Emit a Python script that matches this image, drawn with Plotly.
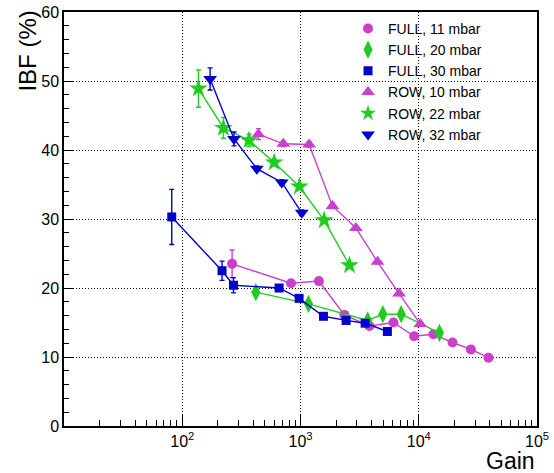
import plotly.graph_objects as go

# ---- data: gain vs. ion back-flow (IBF, %) ----
full11_gain = [264, 832, 1430, 2350, 3830, 6110, 9140, 13300, 19300, 27600, 38900]
full11_ibf = [23.5, 20.7, 21.0, 16.1, 14.5, 15.0, 13.0, 13.3, 12.1, 11.1, 9.9]
full11_err = [2.0, 0.3, 0.3, 0.3, 0.3, 0.3, 0.3, 0.3, 0.3, 0.3, 0.3]

full20_gain = [419, 1167, 3700, 4970, 7100, 14960]
full20_ibf = [19.4, 17.7, 15.3, 16.2, 16.2, 13.5]
full20_err = [0.4, 0.4, 0.3, 0.3, 0.3, 0.3]

full30_gain = [81.5, 217, 271, 659, 973, 1563, 2430, 3520, 5430]
full30_ibf = [30.3, 22.5, 20.4, 20.0, 18.5, 15.9, 15.3, 14.9, 13.7]
full30_err = [4.0, 1.4, 1.1, 0.3, 0.3, 0.3, 0.3, 0.3, 0.3]

row10_gain = [441, 716, 1183, 1862, 2940, 4480, 6820, 10300]
row10_ibf = [42.3, 40.9, 40.8, 31.9, 28.7, 23.8, 19.2, 14.8]
row10_err = [0.8, 0.4, 0.4, 0.4, 0.3, 0.3, 0.3, 0.3]

row22_gain = [137, 223, 367, 599, 979, 1585, 2596]
row22_ibf = [48.9, 43.2, 41.4, 38.2, 34.7, 29.8, 23.3]
row22_err = [2.7, 1.5, 0.9, 0.5, 0.4, 0.4, 0.3]

row32_gain = [172, 274, 427, 695, 1025]
row32_ibf = [50.3, 41.6, 37.3, 35.3, 30.9]
row32_err = [1.6, 1.0, 0.4, 0.4, 0.4]

x_tick_vals = [100, 1000, 10000, 100000]
x_tick_text = ["10<sup>2</sup>", "10<sup>3</sup>", "10<sup>4</sup>", "10<sup>5</sup>"]

MAGENTA = "#cc3fcc"
GREEN = "#1fcc1f"
BLUE = "#0000cc"

# name, gain, ibf, error, colour, symbol, marker size, legend marker size
series = [
    ("FULL, 11 mbar", full11_gain, full11_ibf, full11_err, MAGENTA, "circle", 10, 10),
    ("FULL, 20 mbar", full20_gain, full20_ibf, full20_err, GREEN, "diamond-tall", 13, 13),
    ("FULL, 30 mbar", full30_gain, full30_ibf, full30_err, BLUE, "square", 9, 9),
    ("ROW, 10 mbar", row10_gain, row10_ibf, row10_err, MAGENTA, "triangle-up", 12, 12),
    ("ROW, 22 mbar", row22_gain, row22_ibf, row22_err, GREEN, "star", 14, 12),
    ("ROW, 32 mbar", row32_gain, row32_ibf, row32_err, BLUE, "triangle-down", 12, 12),
]

fig = go.Figure()

for name, gx, gy, ge, color, symbol, size, lsize in series:
    fig.add_trace(go.Scatter(
        x=gx, y=gy, mode="lines+markers", name=name, showlegend=False,
        line=dict(color=color, width=1.4),
        marker=dict(color=color, symbol=symbol, size=size, line=dict(width=0)),
        error_y=dict(type="data", array=ge, visible=True, color=color,
                     thickness=1.4, width=2.5),
    ))

# marker-only legend entries
for name, gx, gy, ge, color, symbol, size, lsize in series:
    fig.add_trace(go.Scatter(
        x=[None], y=[None], mode="markers", name=name, showlegend=True,
        marker=dict(color=color, symbol=symbol, size=lsize, line=dict(width=0)),
    ))

font_family = "Liberation Sans, Arial, sans-serif"

fig.update_layout(
    width=554, height=473,
    margin=dict(l=64, r=17, t=12, b=47, autoexpand=False),
    paper_bgcolor="white", plot_bgcolor="white",
    font=dict(family=font_family, color="black", size=16),
    showlegend=True,
    legend=dict(x=0.6005, y=0.998, xanchor="left", yanchor="top",
                bgcolor="rgba(0,0,0,0)", borderwidth=0,
                font=dict(size=14, family=font_family),
                itemsizing="trace"),
    xaxis=dict(
        type="log", range=[1, 5], automargin=False,
        tickmode="array", tickvals=x_tick_vals, ticktext=x_tick_text,
        ticks="inside", ticklen=12, tickwidth=1, tickcolor="black",
        minor=dict(ticks="inside", ticklen=6, tickwidth=1, tickcolor="black",
                   dtick="D1", showgrid=False),
        showgrid=True, gridcolor="black", gridwidth=1, griddash="1px,2px",
        showline=True, linecolor="black", linewidth=1.5, mirror=True,
        zeroline=False, tickfont=dict(size=16),
    ),
    yaxis=dict(
        range=[0, 60], dtick=10, tick0=0, automargin=False,
        ticks="inside", ticklen=9, tickwidth=1, tickcolor="black",
        minor=dict(ticks="inside", ticklen=5, tickwidth=1, tickcolor="black",
                   dtick=2, showgrid=False),
        showgrid=True, gridcolor="black", gridwidth=1, griddash="1px,2px",
        showline=True, linecolor="black", linewidth=1.5, mirror=True,
        zeroline=False, tickfont=dict(size=16),
    ),
    annotations=[
        dict(text="IBF (%)", xref="paper", yref="paper", x=-0.078, y=1.0,
             xanchor="center", yanchor="top", textangle=-90, showarrow=False,
             font=dict(size=24, family=font_family), yshift=3),
        dict(text="Gain", xref="paper", yref="paper", x=1.0, y=-0.085,
             xanchor="right", yanchor="middle", showarrow=False,
             font=dict(size=23, family=font_family)),
    ],
)

fig.write_html("out.html")
